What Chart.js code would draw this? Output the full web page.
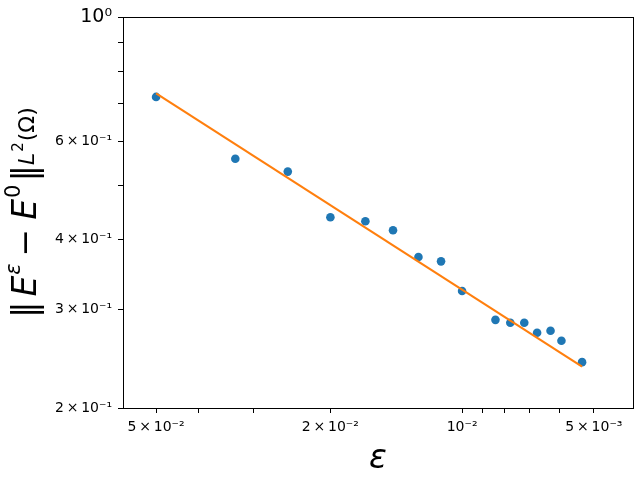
<!DOCTYPE html>
<html>
<head>
<meta charset="utf-8">
<script src="https://cdn.jsdelivr.net/npm/chart.js@4.4.1/dist/chart.umd.min.js"></script>
<style>
  html, body { margin: 0; padding: 0; background: #ffffff; }
</style>
</head>
<body>
<canvas id="myChart" width="640" height="480"></canvas>
<script>
// values (log-log, eps decreasing to the right)
var epsValues = [0.05, 0.03296, 0.02501, 0.01999, 0.01663, 0.01438, 0.01258, 0.01117,
  0.01, 0.00839, 0.00776, 0.00721, 0.00674, 0.00628, 0.00593, 0.00532];
var errValues = [0.7206, 0.5586, 0.5297, 0.4389, 0.4317, 0.4161, 0.3725, 0.366,
  0.3239, 0.2876, 0.2841, 0.2841, 0.2727, 0.2749, 0.2638, 0.2416];

// fitted line, two end points
var fitEps = [0.05, 0.00532];
var fitErr = [0.7313, 0.2371];

var xTickValues = [0.05, 0.04, 0.03, 0.02, 0.01, 0.009, 0.008, 0.007, 0.006, 0.005];
var xTickLabels = ["5\u2009×\u200910⁻²", "", "", "2\u2009×\u200910⁻²", "10⁻²", "", "", "", "", "5\u2009×\u200910⁻³"];
var yTickValues = [0.2, 0.3, 0.4, 0.5, 0.6, 0.7, 0.8, 0.9, 1];
var yTickLabels = ["2\u2009×\u200910⁻¹", "3\u2009×\u200910⁻¹", "4\u2009×\u200910⁻¹", "", "6\u2009×\u200910⁻¹", "", "", "", "10⁰"];

var FONT = "'DejaVu Sans', sans-serif";

function toPoints(xs, ys) {
  var pts = [];
  for (var i = 0; i < xs.length; i++) {
    pts.push({ x: xs[i], y: ys[i] });
  }
  return pts;
}

function labelFor(values, labels) {
  return function (v) {
    var i = values.indexOf(v);
    return i < 0 ? "" : labels[i];
  };
}

// box around the plot area (matplotlib spines)
var framePlugin = {
  id: "frame",
  afterDatasetsDraw: function (chart) {
    var a = chart.chartArea;
    var c = chart.ctx;
    c.save();
    c.strokeStyle = "#000000";
    c.lineWidth = 1;
    c.strokeRect(Math.round(a.left) + 0.5, Math.round(a.top) + 0.5,
      Math.round(a.right - a.left), Math.round(a.bottom - a.top));
    c.restore();
  }
};

// y axis title with super/subscripts, drawn as text
var yTitleParts = [
  { t: "‖", s: 33, it: false, dy: 0, pre: 0 },
  { t: "E", s: 33, it: true, dy: 0, pre: 5 },
  { t: "ε", s: 21, it: true, dy: -16, pre: 1 },
  { t: "−", s: 33, it: false, dy: 0, pre: 7 },
  { t: "E", s: 33, it: true, dy: 0, pre: 9 },
  { t: "0", s: 21, it: false, dy: -16, pre: 1 },
  { t: "‖", s: 33, it: false, dy: 0, pre: 3 },
  { t: "L", s: 22, it: true, dy: -2, pre: 0 },
  { t: "2", s: 15, it: false, dy: -13, pre: 1 },
  { t: "(Ω)", s: 22, it: false, dy: -2, pre: 1 }
];

var yTitlePlugin = {
  id: "yTitle",
  afterDraw: function (chart) {
    var c = chart.ctx;
    var a = chart.chartArea;
    c.save();
    c.fillStyle = "#000000";
    c.textAlign = "left";
    c.textBaseline = "alphabetic";
    var widths = [];
    var total = 0;
    yTitleParts.forEach(function (p) {
      c.font = (p.it ? "italic " : "") + p.s + "px " + FONT;
      var w = c.measureText(p.t).width + p.pre;
      widths.push(w);
      total += w;
    });
    c.translate(36, (a.top + a.bottom) / 2);
    c.rotate(-Math.PI / 2);
    var x = -total / 2;
    yTitleParts.forEach(function (p, i) {
      c.font = (p.it ? "italic " : "") + p.s + "px " + FONT;
      c.fillText(p.t, x + p.pre, p.dy);
      x += widths[i];
    });
    c.restore();
  }
};

var ctx = document.getElementById("myChart").getContext("2d");
var myChart = new Chart(ctx, {
  data: {
    datasets: [
      {
        type: "line",
        data: toPoints(fitEps, fitErr),
        borderColor: "#ff7f0e",
        borderWidth: 2.1,
        pointRadius: 0,
        fill: false,
        order: 0
      },
      {
        type: "scatter",
        data: toPoints(epsValues, errValues),
        backgroundColor: "#1f77b4",
        borderWidth: 0,
        pointRadius: 4.3,
        order: 1
      }
    ]
  },
  options: {
    responsive: false,
    animation: false,
    layout: { padding: { left: 0, right: 7, top: 15, bottom: 0 } },
    plugins: {
      legend: { display: false },
      tooltip: { enabled: false }
    },
    scales: {
      x: {
        type: "logarithmic",
        reverse: true,
        min: 0.00407,
        max: 0.0595,
        border: { display: false },
        grid: { drawOnChartArea: false, tickLength: 5, tickColor: "#000000" },
        ticks: {
          autoSkip: false,
          maxRotation: 0,
          padding: 6,
          color: "#000000",
          font: { family: FONT, size: 14 },
          callback: labelFor(xTickValues, xTickLabels)
        },
        title: {
          display: true,
          text: "ε",
          color: "#000000",
          font: { family: FONT, size: 33, style: "italic", lineHeight: 1.2 },
          padding: { top: 0, bottom: 1 }
        },
        afterBuildTicks: function (scale) {
          scale.ticks = xTickValues.map(function (v) { return { value: v }; });
        },
        afterFit: function (scale) {
          scale.height = 72;
        }
      },
      y: {
        type: "logarithmic",
        min: 0.2,
        max: 1,
        border: { display: false },
        grid: { drawOnChartArea: false, tickLength: 5, tickColor: "#000000" },
        ticks: {
          padding: 6,
          color: "#000000",
          font: function (context) {
            var big = context.tick && context.tick.value === 1;
            return { family: FONT, size: big ? 19 : 14 };
          },
          callback: labelFor(yTickValues, yTickLabels)
        },
        afterBuildTicks: function (scale) {
          scale.ticks = yTickValues.map(function (v) { return { value: v }; });
        },
        afterFit: function (scale) {
          scale.width = 123;
        }
      }
    }
  },
  plugins: [framePlugin, yTitlePlugin]
});
</script>
</body>
</html>
